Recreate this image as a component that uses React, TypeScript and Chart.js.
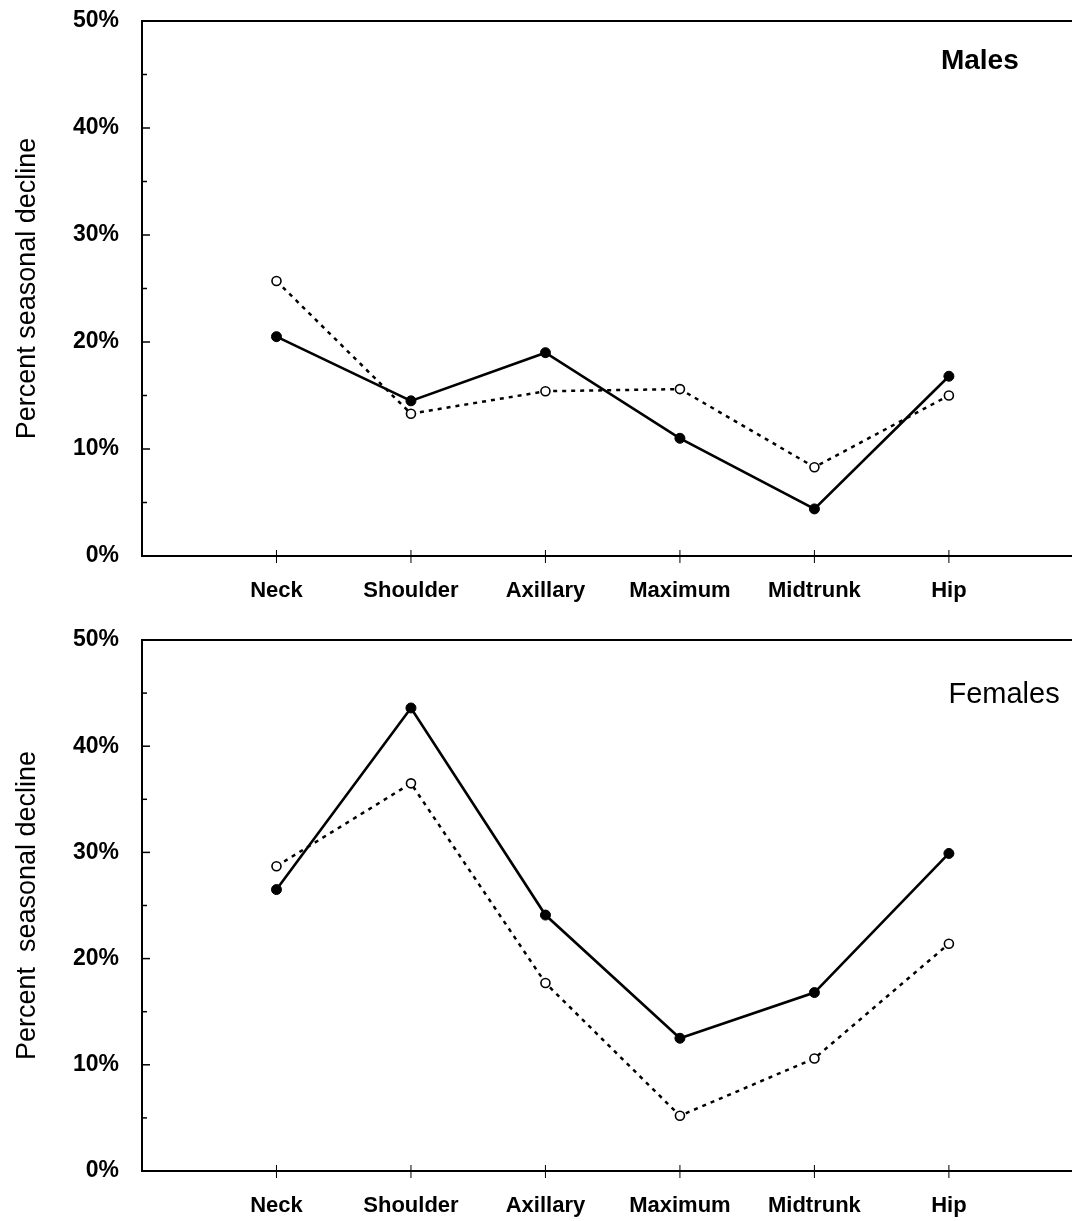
import React, { useEffect, useRef } from 'react';
import { Chart, registerables } from 'chart.js';

Chart.register(...registerables);

const categories = ['Neck', 'Shoulder', 'Axillary', 'Maximum', 'Midtrunk', 'Hip'];
const malesSolid = [20.5, 14.5, 19.0, 11.0, 4.4, 16.8];
const malesOpen = [25.7, 13.3, 15.4, 15.6, 8.3, 15.0];
const femalesSolid = [26.5, 43.6, 24.1, 12.5, 16.8, 29.9];
const femalesOpen = [28.7, 36.5, 17.7, 5.2, 10.6, 21.4];
const yTickValues = [0, 10, 20, 30, 40, 50];

const FONT = "'Liberation Sans', Arial, sans-serif";

const framePlugin = {
  id: 'frame',
  afterDraw(chart: any) {
    const { ctx, chartArea } = chart;
    const xs = chart.scales.x;
    const ys = chart.scales.y;
    ctx.save();
    ctx.strokeStyle = '#000';
    // top border and bottom axis line to the edge of the canvas
    ctx.lineWidth = 2;
    ctx.beginPath();
    ctx.moveTo(chartArea.left - 1, chartArea.top);
    ctx.lineTo(chart.width, chartArea.top);
    ctx.moveTo(chartArea.left - 1, chartArea.bottom);
    ctx.lineTo(chart.width, chartArea.bottom);
    ctx.stroke();
    // y ticks inward
    ctx.lineWidth = 1.5;
    for (let v = 0; v <= 50; v += 5) {
      const y = ys.getPixelForValue(v);
      const len = v % 10 === 0 ? 8 : 5;
      ctx.beginPath();
      ctx.moveTo(chartArea.left, y);
      ctx.lineTo(chartArea.left + len, y);
      ctx.stroke();
    }
    // x ticks crossing the axis
    ctx.lineWidth = 1;
    categories.forEach((_, i) => {
      const x = xs.getPixelForValue(i + 1);
      ctx.beginPath();
      ctx.moveTo(x, chartArea.bottom - 6);
      ctx.lineTo(x, chartArea.bottom + 7);
      ctx.stroke();
    });
    // panel label
    const pl = chart.options.plugins.panelLabel;
    if (pl) {
      ctx.fillStyle = '#000';
      ctx.font = pl.font;
      ctx.textAlign = 'center';
      ctx.textBaseline = 'middle';
      ctx.fillText(pl.text, xs.getPixelForValue(pl.x), ys.getPixelForValue(pl.y));
    }
    ctx.restore();
  },
};

function makeConfig(
  solid: number[],
  open: number[],
  yTitle: string,
  panel: { text: string; x: number; y: number; font: string },
  padTop: number,
  xAxisHeight: number,
  xLabelPad: number
): any {
  const solidPts = solid.map((v, i) => ({ x: i + 1, y: v }));
  const openPts = open.map((v, i) => ({ x: i + 1, y: v }));
  return {
    type: 'line',
    data: {
      datasets: [
        {
          data: openPts,
          borderColor: '#000',
          borderWidth: 2.5,
          borderDash: [4, 5],
          pointRadius: 4.5,
          pointBackgroundColor: '#fff',
          pointBorderColor: '#000',
          pointBorderWidth: 1.6,
          tension: 0,
        },
        {
          data: solidPts,
          borderColor: '#000',
          borderWidth: 2.6,
          pointRadius: 5,
          pointBackgroundColor: '#000',
          pointBorderColor: '#000',
          pointBorderWidth: 1,
          tension: 0,
        },
      ],
    },
    options: {
      responsive: false,
      animation: false,
      devicePixelRatio: 1,
      layout: { padding: { top: padTop, left: 0, right: 0, bottom: 0 } },
      plugins: {
        legend: { display: false },
        tooltip: { enabled: false },
        panelLabel: panel,
      },
      scales: {
        x: {
          type: 'linear',
          min: 0,
          max: 6.87,
          afterBuildTicks: (scale: any) => {
            scale.ticks = categories.map((_, i) => ({ value: i + 1 }));
          },
          afterFit: (scale: any) => {
            scale.height = xAxisHeight;
          },
          grid: {
            display: true,
            drawOnChartArea: false,
            drawTicks: true,
            tickLength: xLabelPad,
            tickColor: 'rgba(0,0,0,0)',
          },
          border: { display: false },
          ticks: {
            autoSkip: false,
            maxRotation: 0,
            padding: 0,
            color: '#000',
            font: { family: FONT, size: 22, weight: 'bold' },
            callback: (v: number) => categories[Math.round(v) - 1] ?? '',
          },
        },
        y: {
          type: 'linear',
          min: 0,
          max: 50,
          afterBuildTicks: (scale: any) => {
            scale.ticks = yTickValues.map((v) => ({ value: v }));
          },
          afterFit: (scale: any) => {
            scale.width = 142;
          },
          grid: {
            display: true,
            drawOnChartArea: false,
            drawTicks: true,
            tickLength: 23,
            tickColor: 'rgba(0,0,0,0)',
          },
          border: { display: true, color: '#000', width: 2 },
          ticks: {
            padding: 0,
            color: '#000',
            font: { family: FONT, size: 23, weight: 'bold' },
            callback: (v: number) => v + '%',
          },
          title: {
            display: true,
            text: yTitle,
            color: '#000',
            padding: { top: 11, bottom: 0 },
            font: { family: FONT, size: 27, weight: 'normal' },
          },
        },
      },
    },
    plugins: [framePlugin],
  };
}

function Panel(props: { config: any; top: number; height: number }) {
  const ref = useRef<HTMLCanvasElement | null>(null);
  useEffect(() => {
    if (!ref.current) return;
    const chart = new Chart(ref.current, props.config);
    return () => chart.destroy();
  }, []);
  return (
    <canvas
      ref={ref}
      width={1072}
      height={props.height}
      style={{ position: 'absolute', left: 0, top: props.top, width: 1072, height: props.height }}
    />
  );
}

export default function App() {
  const topConfig = makeConfig(
    malesSolid,
    malesOpen,
    'Percent seasonal decline',
    { text: 'Males', x: 6.23, y: 46.2, font: `bold 28px ${FONT}` },
    21,
    62,
    22
  );
  const bottomConfig = makeConfig(
    femalesSolid,
    femalesOpen,
    'Percent  seasonal decline',
    { text: 'Females', x: 6.41, y: 44.8, font: `29px ${FONT}` },
    22,
    50,
    22
  );
  return (
    <div
      style={{
        position: 'absolute',
        left: 0,
        top: 0,
        width: 1072,
        height: 1221,
        overflow: 'hidden',
        background: '#fff',
      }}
    >
      <Panel config={topConfig} top={0} height={618} />
      <Panel config={bottomConfig} top={618} height={603} />
    </div>
  );
}
